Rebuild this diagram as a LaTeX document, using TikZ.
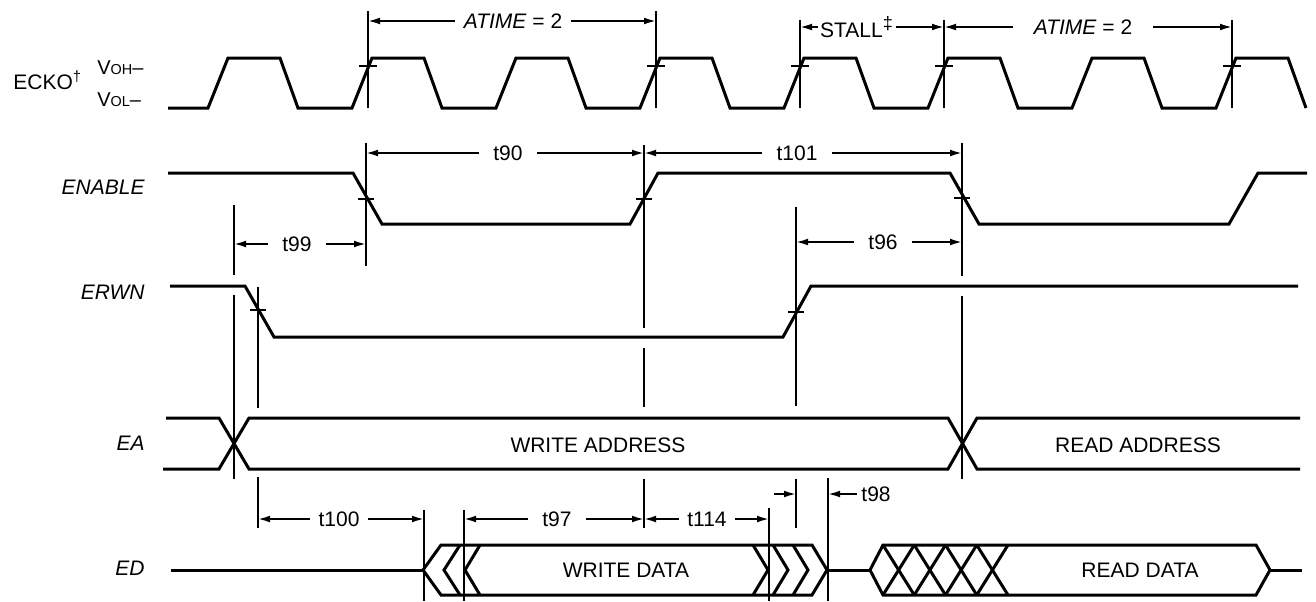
\documentclass[tikz,border=0pt]{standalone}
\usepackage{fontspec}
\setmainfont{Liberation Sans}
\usetikzlibrary{arrows.meta}

\begin{document}
\begin{tikzpicture}
[x=0.5pt, y=-0.5pt, font=\fontsize{10.5}{12}\selectfont]

\tikzstyle{wave}=[line width=1.5pt]
\tikzstyle{guide}=[line width=0.9pt]
\tikzstyle{dim}=[line width=0.9pt, -{Latex[length=6pt, width=3.4pt]}]
\tikzstyle{signame}=[anchor=east, inner sep=0pt, font=\fontsize{10.5}{12}\selectfont\itshape]
\tikzstyle{tlabel}=[inner ysep=1pt, inner xsep=7pt]

\useasboundingbox (0,0) rectangle (1316,601);

% signal names
\node[anchor=west, inner sep=0pt]	(ecko)	at (13,80)	{ECKO\textsuperscript{†}};
\node[anchor=west, inner sep=0pt]	(voh)	at (97,68)	{\fontsize{10}{11}\selectfont V{\fontsize{7.2}{8}\selectfont OH}–};
\node[anchor=west, inner sep=0pt]	(vol)	at (97,100)	{\fontsize{10}{11}\selectfont V{\fontsize{7.2}{8}\selectfont OL}–};
\node[signame]	(enable)	at (145,187)	{ENABLE};
\node[signame]	(erwn)	at (145,292)	{ERWN};
\node[signame]	(ea)	at (145,443)	{EA};
\node[signame]	(ed)	at (145,568)	{ED};

% waveforms
\draw[wave] (168,108) \foreach \r in {208,352,...,1216} {-- (\r,108) -- ++(20,-50) -- ++(52,0) -- ++(18,50)};
\draw[wave] (168,173) -- (353,173) -- (382,224) -- (630,224) -- (658,173) -- (950,173) -- (979,224) -- (1229,224) -- (1258,173) -- (1307,173);
\draw[wave] (170,286) -- (245,286) -- (274,337) -- (783,337) -- (811,286) -- (1298,286);
\draw[wave] (166,418) -- (219,418) -- (249,469) -- (948,469) -- (977,418) -- (1300,418);
\draw[wave] (163,469) -- (219,469) -- (249,418) -- (948,418) -- (977,469) -- (1300,469);
\draw[wave] (171,570) -- (423,570);
\draw[wave] (423,570) -- (441,545) -- (812,545) -- (827,570) -- (812,595) -- (441,595) -- cycle;
\draw[wave] (460,545) -- (444,570) -- (460,595);
\draw[wave] (480,545) -- (465,570) -- (480,595);
\foreach \x in {753,773,793} \draw[wave] (\x,545) -- (\x+15,570) -- (\x,595);
\draw[wave] (827,570) -- (870,570);
\draw[wave] (870,570) -- (883,545) -- (1256,545) -- (1270,570) -- (1256,595) -- (883,595) -- cycle;
\draw[wave] (1270,570) -- (1302,570);
\foreach \i in {0,1,2,3} {
  \draw[wave] (883+31.25*\i,545) -- (914.25+31.25*\i,595);
  \draw[wave] (883+31.25*\i,595) -- (914.25+31.25*\i,545);
}
\node	(wa)	at (598,445)	{WRITE ADDRESS};
\node	(ra)	at (1138,445)	{READ ADDRESS};
\node	(wd)	at (626,570)	{WRITE DATA};
\node	(rd)	at (1140,570)	{READ DATA};

% guide lines
\coordinate (ck1) at (368,0);
\coordinate (ck3) at (656,0);
\coordinate (ck4) at (800,0);
\coordinate (ck5) at (944,0);
\coordinate (ck7) at (1232,0);
\coordinate (en1) at (366,0);
\coordinate (en2) at (644,0);
\coordinate (en3) at (962,0);
\coordinate (rw0) at (234,0);
\coordinate (rw1) at (258,0);
\coordinate (rw2) at (796,0);
\coordinate (ed0) at (424,0);
\coordinate (ed1) at (464,0);
\coordinate (ed2) at (769,0);
\coordinate (ed3) at (828,0);

\draw[guide] (368,11) -- (368,108);
\draw[guide] (656,11) -- (656,108);
\draw[guide] (800,20) -- (800,108);
\draw[guide] (944,20) -- (944,108);
\draw[guide] (1232,20) -- (1232,108);
\foreach \x in {368,656,800,944,1232} \draw[guide] (\x-9,66) -- (\x+9,66);

\draw[guide] (366,143) -- (366,266);
\draw[guide] (644,145) -- (644,328) (644,348) -- (644,407) (644,479) -- (644,528);
\draw[guide] (962,143) -- (962,276) (962,296) -- (962,479);
\foreach \x/\y in {366/199,644/199,962/198,258/310,796/312} \draw[guide] (\x-8,\y) -- (\x+8,\y);
\draw[guide] (234,205) -- (234,275) (234,295) -- (234,479);
\draw[guide] (258,287) -- (258,408) (258,477) -- (258,528);
\draw[guide] (796,207) -- (796,406) (796,479) -- (796,528);
\draw[guide] (424,510) -- (424,601);
\draw[guide] (464,510) -- (464,601);
\draw[guide] (769,508) -- (769,601);
\draw[guide] (828,478) -- (828,601);

% timing labels
\node[tlabel, inner xsep=4pt]	(atime1)	at (513,21)	{\textit{ATIME} = 2};
\node[tlabel, inner xsep=1pt]	(stall)	at (857,27)	{STALL\textsuperscript{\fontsize{9}{10}\selectfont ‡}};
\node[tlabel, inner xsep=10pt]	(atime2)	at (1083,27)	{\textit{ATIME} = 2};
\node[tlabel]	(t90)	at (508,153)	{t90};
\node[tlabel]	(t101)	at (797,153)	{t101};
\node[tlabel]	(t99)	at (297,244)	{t99};
\node[tlabel]	(t96)	at (883,242)	{t96};
\node[tlabel, inner xsep=4pt]	(t100)	at (339,519)	{t100};
\node[tlabel]	(t97)	at (557,519)	{t97};
\node[tlabel, inner xsep=4pt]	(t114)	at (707,519)	{t114};
\node[tlabel, inner xsep=2pt]	(t98)	at (876,494)	{t98};
\coordinate (t98in) at (774,494);

\draw[dim] (atime1.west) -- (atime1.west -| ck1);
\draw[dim] (atime1.east) -- (atime1.east -| ck3);
\draw[dim] (stall.west) -- (stall.west -| ck4);
\draw[dim] (stall.east) -- (stall.east -| ck5);
\draw[dim] (atime2.west) -- (atime2.west -| ck5);
\draw[dim] (atime2.east) -- (atime2.east -| ck7);
\draw[dim] (t90.west) -- (t90.west -| en1);
\draw[dim] (t90.east) -- (t90.east -| en2);
\draw[dim] (t101.west) -- (t101.west -| en2);
\draw[dim] (t101.east) -- (t101.east -| en3);
\draw[dim] (t99.west) -- (t99.west -| rw0);
\draw[dim] (t99.east) -- (t99.east -| en1);
\draw[dim] (t96.west) -- (t96.west -| rw2);
\draw[dim] (t96.east) -- (t96.east -| en3);
\draw[dim] (t100.west) -- (t100.west -| rw1);
\draw[dim] (t100.east) -- (t100.east -| ed0);
\draw[dim] (t97.west) -- (t97.west -| ed1);
\draw[dim] (t97.east) -- (t97.east -| en2);
\draw[dim] (t114.west) -- (t114.west -| en2);
\draw[dim] (t114.east) -- (t114.east -| ed2);
\draw[dim] (t98in) -- (t98in -| rw2);
\draw[dim] (t98.west) -- (t98.west -| ed3);
\end{tikzpicture}
\end{document}
